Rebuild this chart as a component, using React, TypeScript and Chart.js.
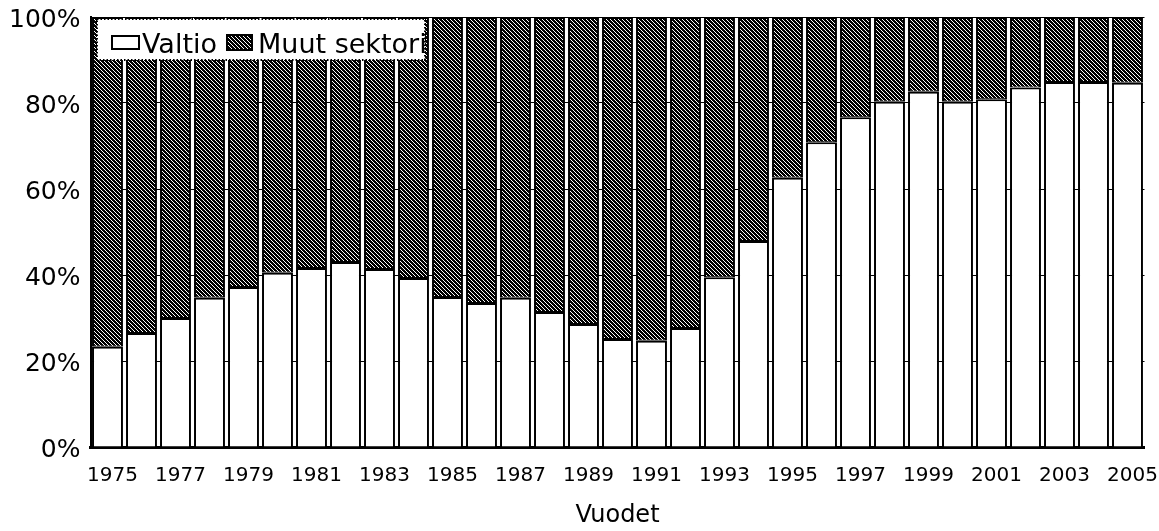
import React, { useEffect, useRef } from "react";
import { Chart, registerables } from "chart.js";

Chart.register(...registerables);

const years = [
  "1975", "1976", "1977", "1978", "1979", "1980", "1981", "1982", "1983", "1984",
  "1985", "1986", "1987", "1988", "1989", "1990", "1991", "1992", "1993", "1994",
  "1995", "1996", "1997", "1998", "1999", "2000", "2001", "2002", "2003", "2004", "2005",
];

const valtio = [
  23.3, 26.5, 30.0, 34.7, 37.2, 40.5, 41.6, 43.0, 41.4, 39.3,
  34.9, 33.5, 34.7, 31.4, 28.6, 25.1, 24.7, 27.7, 39.5, 47.9,
  62.6, 70.9, 76.7, 80.3, 82.6, 80.3, 80.9, 83.6, 84.9, 84.9, 84.7,
];

const muutSektorit = [
  76.7, 73.5, 70.0, 65.3, 62.8, 59.5, 58.4, 57.0, 58.6, 60.7,
  65.1, 66.5, 65.3, 68.6, 71.4, 74.9, 75.3, 72.3, 60.5, 52.1,
  37.4, 29.1, 23.3, 19.7, 17.4, 19.7, 19.1, 16.4, 15.1, 15.1, 15.3,
];

const seriesLabels = ["Valtio", "Muut sektorit"];
const yTicks = [0, 20, 40, 60, 80, 100];
const axisTitle = "Vuodet";

const FONT = '"DejaVu Sans", sans-serif';

function makeHatch(): CanvasPattern | string {
  const c = document.createElement("canvas");
  c.width = 4;
  c.height = 4;
  const g = c.getContext("2d");
  if (!g) return "#333";
  const img = g.createImageData(4, 4);
  for (let y = 0; y < 4; y++) {
    for (let x = 0; x < 4; x++) {
      const k = (((x - y) % 4) + 4) % 4;
      const black = k < 3;
      const i = (y * 4 + x) * 4;
      const v = black ? 0 : 255;
      img.data[i] = v;
      img.data[i + 1] = v;
      img.data[i + 2] = v;
      img.data[i + 3] = 255;
    }
  }
  g.putImageData(img, 0, 0);
  return g.createPattern(c, "repeat") || "#333";
}

const boxLegend = {
  id: "boxLegend",
  afterDraw(chart: any) {
    const { ctx, chartArea } = chart;
    const x0 = chartArea.left + 6.5;
    const y0 = chartArea.top + 2;
    const w = 328;
    const h = 41;
    ctx.save();
    ctx.fillStyle = "#fff";
    ctx.fillRect(x0, y0, w, h);
    ctx.setLineDash([1.5, 2]);
    ctx.lineWidth = 2;
    ctx.strokeStyle = "#000";
    ctx.strokeRect(x0, y0, w, h);
    ctx.setLineDash([]);
    ctx.beginPath();
    ctx.rect(x0, y0, w, h);
    ctx.clip();
    const ds = chart.data.datasets;
    ctx.lineWidth = 2;
    ctx.fillStyle = ds[0].backgroundColor;
    ctx.fillRect(x0 + 15, y0 + 17, 27, 13);
    ctx.strokeRect(x0 + 15, y0 + 17, 27, 13);
    ctx.fillStyle = "#000";
    ctx.font = `27px ${FONT}`;
    ctx.textBaseline = "alphabetic";
    ctx.fillText(ds[0].label, x0 + 45, y0 + 34);
    ctx.fillStyle = ds[1].backgroundColor;
    ctx.fillRect(x0 + 130, y0 + 16, 25, 15);
    ctx.strokeRect(x0 + 130, y0 + 16, 25, 15);
    ctx.fillStyle = "#000";
    ctx.fillText(ds[1].label, x0 + 161, y0 + 34);
    ctx.restore();
  },
};

export default function App() {
  const ref = useRef<HTMLCanvasElement | null>(null);

  useEffect(() => {
    if (!ref.current) return;
    const hatch = makeHatch();
    const chart = new Chart(ref.current, {
      type: "bar",
      data: {
        labels: years,
        datasets: [
          {
            label: seriesLabels[0],
            data: valtio,
            backgroundColor: "#ffffff",
            borderColor: "#000000",
            borderWidth: { left: 2, right: 2, top: 2, bottom: 0 },
            borderSkipped: false,
            barPercentage: 0.91,
            categoryPercentage: 1,
          },
          {
            label: seriesLabels[1],
            data: muutSektorit,
            backgroundColor: hatch as any,
            borderColor: "#000000",
            borderWidth: { left: 2, right: 2, top: 2, bottom: 1 },
            borderSkipped: false,
            barPercentage: 0.91,
            categoryPercentage: 1,
          },
        ],
      },
      options: {
        animation: false,
        responsive: false,
        maintainAspectRatio: false,
        layout: { padding: { left: 0, top: 17, right: 55.5, bottom: 0 } },
        plugins: {
          legend: { display: false },
          tooltip: { enabled: false },
        },
        scales: {
          x: {
            stacked: true,
            grid: { display: false, drawTicks: false },
            border: { display: true, color: "#000", width: 3 },
            ticks: {
              autoSkip: false,
              maxRotation: 0,
              minRotation: 0,
              padding: 17,
              labelOffset: 5,
              color: "#000",
              font: { family: FONT, size: 20 },
              callback: (_v: any, i: number) => (i % 2 === 0 ? years[i] : ""),
            },
            title: {
              display: true,
              text: axisTitle,
              color: "#000",
              font: { family: FONT, size: 24 },
              padding: { top: 0, bottom: 1 },
            },
            afterFit: (s: any) => {
              s.height = 84;
              s.paddingLeft = 0;
              s.paddingRight = 0;
            },
          },
          y: {
            stacked: true,
            min: 0,
            max: 100,
            afterBuildTicks: (s: any) => {
              s.ticks = yTicks.map((v) => ({ value: v }));
            },
            grid: { display: true, color: "#000", lineWidth: 1, drawTicks: false },
            border: { display: true, color: "#000", width: 2 },
            ticks: {
              padding: 10,
              labelOffset: 3,
              color: "#000",
              font: { family: FONT, size: 25 },
              callback: (v: any) => `${v}%`,
            },
            afterFit: (s: any) => {
              s.width = 90.5;
              s.paddingTop = 0;
              s.paddingBottom = 0;
            },
          },
        },
      },
      plugins: [boxLegend],
    });
    return () => chart.destroy();
  }, []);

  return (
    <div
      style={{
        position: "fixed",
        left: 0,
        top: 0,
        width: 1159,
        height: 531,
        overflow: "hidden",
        background: "#fff",
      }}
    >
      <canvas ref={ref} width={1200} height={531} style={{ width: 1200, height: 531, display: "block" }} />
    </div>
  );
}
